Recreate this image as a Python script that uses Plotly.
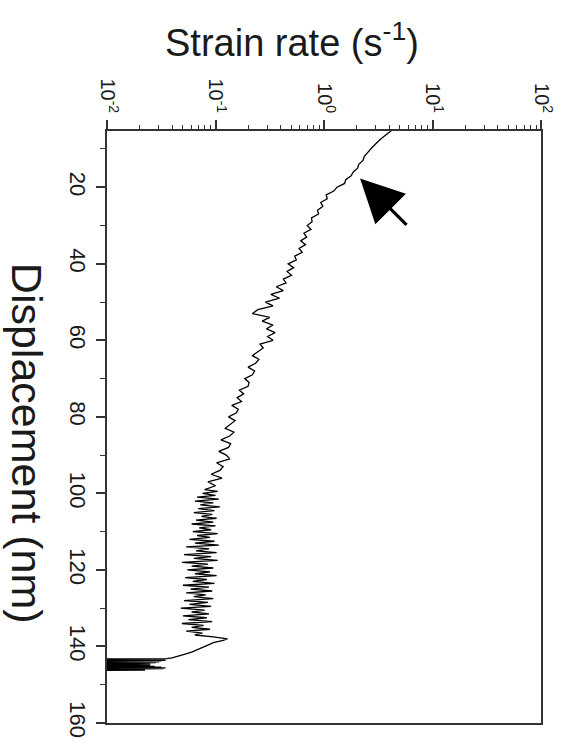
import plotly.graph_objects as go

# Displacement (nm) and log10 of strain rate (s^-1), in segments along the indent
disp_a = [5, 6, 7, 8, 9, 10, 11, 12, 13, 14, 15, 16, 17, 18, 19, 20]
lograte_a = [0.63, 0.58, 0.54, 0.50, 0.46, 0.43, 0.40, 0.37, 0.36, 0.32, 0.31, 0.27,
             0.25, 0.20, 0.19, 0.12]

disp_b = [21, 22, 23, 24, 25, 26, 27, 28, 29, 30, 31, 32, 33, 34, 35, 36, 37, 38, 39, 40,
          41, 42, 43, 44, 45, 46, 47, 48, 49, 50, 51, 52, 53, 54, 55, 56, 57, 58, 59, 60,
          61, 62, 63, 64, 65, 66, 67, 68, 69, 70, 71, 72, 73, 74, 75, 76, 77, 78, 79, 80,
          81, 82, 83, 84, 85, 86, 87, 88, 89, 90, 91, 92, 93, 94, 95, 96, 97, 98, 99]
lograte_b = [0.09, 0.02, 0.03, -0.03, -0.01, -0.06, -0.05, -0.115, -0.11, -0.155,
             -0.12, -0.185, -0.16, -0.215, -0.17, -0.23, -0.20, -0.27, -0.255, -0.33,
             -0.28, -0.34, -0.30, -0.375, -0.35, -0.44, -0.375, -0.49, -0.41, -0.54,
             -0.47, -0.61, -0.66, -0.50, -0.57, -0.47, -0.53, -0.45, -0.52, -0.47,
             -0.59, -0.56, -0.61, -0.66, -0.60, -0.63, -0.70, -0.64, -0.66, -0.73,
             -0.69, -0.70, -0.78, -0.74, -0.80, -0.76, -0.85, -0.79, -0.81, -0.88,
             -0.82, -0.86, -0.91, -0.83, -0.87, -0.95, -0.86, -0.88, -0.97, -0.90,
             -0.87, -0.99, -0.93, -0.96, -1.04, -0.94, -1.07, -1.00, -1.10]

disp_c = [99.5, 100, 100.5, 101, 101.5, 102, 102.5, 103, 103.5, 104, 104.5, 105, 105.5,
          106, 106.5, 107, 107.5, 108, 108.5, 109, 109.5, 110, 110.5, 111, 111.5, 112,
          112.5, 113, 113.5, 114, 114.5, 115, 115.5, 116, 116.5, 117, 117.5, 118, 118.5,
          119, 119.5, 120, 120.5, 121, 121.5, 122, 122.5, 123, 123.5, 124, 124.5, 125,
          125.5, 126, 126.5, 127, 127.5, 128, 128.5, 129, 129.5, 130, 130.5, 131, 131.5,
          132, 132.5, 133, 133.5, 134, 134.5, 135, 135.5, 136, 136.5, 137]
lograte_c = [-0.98, -1.12, -1.00, -1.17, -0.97, -1.19, -1.02, -1.14, -0.96, -1.16, -1.01,
             -1.20, -1.03, -1.13, -0.99, -1.18, -1.02, -1.22, -1.00, -1.15, -1.04, -1.21,
             -0.98, -1.17, -1.05, -1.24, -1.01, -1.19, -0.97, -1.27, -1.06, -1.18, -0.99,
             -1.29, -1.04, -1.20, -0.98, -1.31, -1.07, -1.22, -1.02, -1.26, -1.05, -1.19,
             -0.99, -1.28, -1.08, -1.21, -1.01, -1.30, -1.06, -1.23, -1.03, -1.27, -1.09,
             -1.20, -1.02, -1.29, -1.07, -1.24, -1.04, -1.32, -1.10, -1.22, -1.06, -1.30,
             -1.08, -1.25, -1.03, -1.31, -1.11, -1.22, -1.05, -1.27, -1.12, -1.19]

disp_d = [137.5, 138, 138.4, 139, 139.5, 140, 140.5, 141, 141.5, 142, 142.5, 143]
lograte_d = [-1.02, -0.89, -0.93, -1.02, -1.06, -1.10, -1.14, -1.17, -1.22, -1.28, -1.34,
             -1.40]

# final burst: rate collapses and oscillates below the 10^-2 floor
disp_e = [143.2, 143.3, 143.4, 143.5, 143.6, 143.7, 143.8, 143.9, 144.0, 144.1, 144.2,
          144.3, 144.4, 144.5, 144.6, 144.7, 144.8, 144.9, 145.0, 145.1, 145.2, 145.3,
          145.4, 145.5, 145.6, 145.7, 145.8, 145.9, 146.0, 146.1, 146.2, 146.3]
lograte_e = [-1.45, -2.3, -1.47, -2.3, -1.46, -2.3, -1.50, -2.3, -1.52, -2.3, -1.55, -2.3,
             -1.58, -2.3, -1.60, -2.3, -1.62, -2.3, -1.60, -2.3, -1.56, -2.3, -1.50, -2.3,
             -1.46, -2.3, -1.48, -2.3, -1.55, -2.3, -1.65, -2.3]

displacement = disp_a + disp_b + disp_c + disp_d + disp_e
strain_rate = [10 ** v for v in lograte_a + lograte_b + lograte_c + lograte_d + lograte_e]

# strain-rate decade ticks
rate_ticks = [0.01, 0.1, 1, 10, 100]
rate_tick_text = ["10<sup>-2</sup>", "10<sup>-1</sup>", "10<sup>0</sup>",
                  "10<sup>1</sup>", "10<sup>2</sup>"]

# arrow marking the onset point on the curve (rate, displacement)
arrow_rate = 2.15
arrow_disp = 17.7

FONT = "Liberation Sans, Arial, sans-serif"
INK = "#1a1a1a"

fig = go.Figure()
fig.add_trace(go.Scatter(
    x=strain_rate, y=displacement, mode="lines",
    line=dict(color="black", width=1.3), showlegend=False,
))

fig.update_xaxes(
    type="log", range=[-2, 2], side="top",
    tickmode="array", tickvals=rate_ticks, ticktext=rate_tick_text, tickangle=90,
    showgrid=False, zeroline=False, showline=True, mirror=True,
    linecolor="#333", linewidth=1.8,
    ticks="outside", ticklen=9, tickwidth=1.5, tickcolor="#333",
    minor=dict(ticks="outside", dtick="D1", ticklen=4, tickwidth=1, tickcolor="#333",
               showgrid=False),
    tickfont=dict(family=FONT, size=20, color=INK),
)
fig.update_yaxes(
    range=[160, 5.3], tick0=0, dtick=20, tickangle=90,
    showgrid=False, zeroline=False, showline=True, mirror=True,
    linecolor="#333", linewidth=1.8,
    ticks="outside", ticklen=9, tickwidth=1.5, tickcolor="#333",
    minor=dict(ticks="outside", dtick=10, ticklen=5, tickwidth=1, tickcolor="#333",
               showgrid=False),
    tickfont=dict(family=FONT, size=22, color=INK),
)

fig.add_annotation(
    x=0.426, y=1.153, xref="paper", yref="paper", showarrow=False,
    text="Strain rate (s<sup>-1</sup>)", xanchor="center", yanchor="middle",
    font=dict(family=FONT, size=38, color=INK),
)
fig.add_annotation(
    x=-0.184, y=0.473, xref="paper", yref="paper", showarrow=False,
    text="Displacement (nm)", textangle=90, xanchor="center", yanchor="middle",
    font=dict(family=FONT, size=43, color=INK),
)
fig.add_annotation(
    x=0.3324, y=arrow_disp, xref="x", yref="y", text="",
    showarrow=True, ax=48, ay=48, arrowhead=2, arrowsize=2.7, arrowwidth=3.2,
    arrowcolor="black",
)

fig.update_layout(
    width=572, height=750,
    margin=dict(l=107, r=31, t=131, b=27),
    paper_bgcolor="white", plot_bgcolor="white",
)

fig.write_html("out.html")
